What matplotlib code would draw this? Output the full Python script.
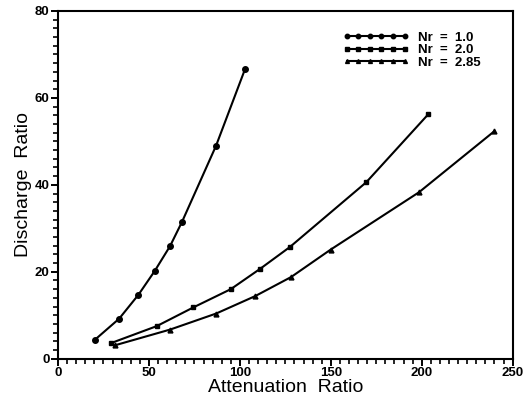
import matplotlib
matplotlib.use("Agg")
import matplotlib.pyplot as plt
from matplotlib.ticker import MultipleLocator

plt.rcParams['font.family'] = ['Liberation Sans', 'DejaVu Sans']

x_nr10 = [20.4, 33.6, 44.2, 53.2, 61.6, 68.2, 86.9, 102.9]
y_nr10 = [4.4, 9.2, 14.7, 20.2, 25.9, 31.5, 49.0, 66.7]

x_nr20 = [29.2, 54.3, 74.4, 95.0, 111.2, 127.5, 169.5, 203.5]
y_nr20 = [3.6, 7.5, 11.8, 16.0, 20.7, 25.7, 40.6, 56.2]

x_nr285 = [31.4, 61.6, 87.0, 108.4, 128.2, 149.9, 198.5, 239.8]
y_nr285 = [3.1, 6.7, 10.4, 14.4, 18.8, 25.1, 38.3, 52.3]

labels = ["Nr  =  1.0", "Nr  =  2.0", "Nr  =  2.85"]

fig = plt.figure(figsize=(5.24, 4.04), dpi=100)
ax = fig.add_axes([0.1107, 0.1121, 0.8677, 0.8607])

ax.plot(x_nr10, y_nr10, '-o', color='black', lw=1.5, ms=4, label=labels[0])
ax.plot(x_nr20, y_nr20, '-s', color='black', lw=1.5, ms=3.5, label=labels[1])
ax.plot(x_nr285, y_nr285, '-^', color='black', lw=1.5, ms=3.5, label=labels[2])

ax.set_xlim(0, 250)
ax.set_ylim(0, 80)
ax.xaxis.set_major_locator(MultipleLocator(50))
ax.xaxis.set_minor_locator(MultipleLocator(5))
ax.yaxis.set_major_locator(MultipleLocator(20))
ax.yaxis.set_minor_locator(MultipleLocator(2))
ax.tick_params(which='major', direction='out', length=5, width=1.4, labelsize=9.5, pad=1)
ax.tick_params(which='minor', direction='out', length=3.5, width=1.2)
ax.tick_params(which='both', top=False, right=False)
for lab in ax.get_xticklabels() + ax.get_yticklabels():
    lab.set_fontweight('bold')
for s in ax.spines.values():
    s.set_linewidth(1.5)

ax.set_xlabel("Attenuation  Ratio", fontsize=14, labelpad=0)
ax.set_ylabel("Discharge  Ratio", fontsize=14, labelpad=2)

leg = ax.legend(loc='upper left', bbox_to_anchor=(0.6, 0.975), frameon=False,
                numpoints=6, handlelength=5.0, fontsize=9.5, labelspacing=0.02,
                handletextpad=0.7, markerscale=0.8)
for t in leg.get_texts():
    t.set_fontweight('bold')

fig.savefig("out.png", dpi=100)
